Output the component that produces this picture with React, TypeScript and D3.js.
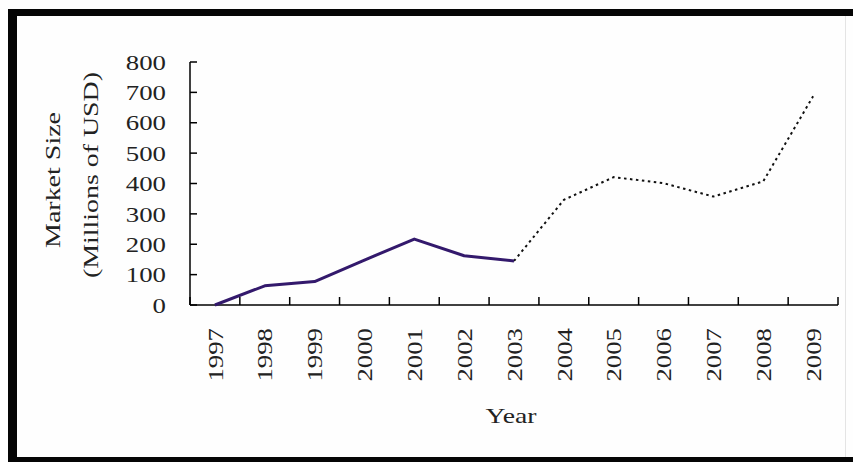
import React, { useRef, useEffect } from "react";
import * as d3 from "d3";

// data
const years = ["1997", "1998", "1999", "2000", "2001", "2002", "2003", "2004", "2005", "2006", "2007", "2008", "2009"];
const actualYears = ["1997", "1998", "1999", "2000", "2001", "2002", "2003"];
const actualValues = [0, 63, 77, 148, 217, 162, 145];
const forecastYears = ["2003", "2004", "2005", "2006", "2007", "2008", "2009"];
const forecastValues = [145, 346, 421, 401, 357, 407, 687];
const yTicks = [0, 100, 200, 300, 400, 500, 600, 700, 800];

const W = 853;
const H = 462;
const FONT = "'Liberation Serif', 'DejaVu Serif', serif";
const CHAR_W = 13.4;

const App = () => {
  const svgRef = useRef(null);

  useEffect(() => {
    const svg = d3.select(svgRef.current);
    svg.selectAll("*").remove();

    // frame
    svg.append("rect").attr("x", 0).attr("y", 0).attr("width", W).attr("height", H).attr("fill", "#fefefe");
    svg.append("rect").attr("x", 8).attr("y", 9).attr("width", W - 8).attr("height", 7).attr("fill", "#050505");
    svg.append("rect").attr("x", 8).attr("y", 9).attr("width", 9).attr("height", H - 9).attr("fill", "#050505");
    svg.append("rect").attr("x", 8).attr("y", 457).attr("width", W - 8).attr("height", 5).attr("fill", "#050505");
    svg.append("line").attr("x1", 845.5).attr("x2", 845.5).attr("y1", 16).attr("y2", 457)
      .attr("stroke", "#e4e4e4").attr("stroke-width", 1);

    // scales
    const x = d3.scaleBand().domain(years).range([190, 838]).padding(0);
    const y = d3.scaleLinear().domain([0, 800]).range([305, 62]);
    const cx = (d) => x(d) + x.bandwidth() / 2;

    const g = svg.append("g");

    // y axis
    g.append("line").attr("x1", 190).attr("x2", 190).attr("y1", y(800)).attr("y2", y(0))
      .attr("stroke", "#000").attr("stroke-width", 1.5);
    g.selectAll(".ytick").data(yTicks).enter().append("line")
      .attr("x1", 190).attr("x2", 197)
      .attr("y1", d => y(d)).attr("y2", d => y(d))
      .attr("stroke", "#000").attr("stroke-width", 1.5);
    g.selectAll(".ylab").data(yTicks).enter().append("text")
      .attr("x", 166).attr("y", d => y(d))
      .attr("dy", "0.35em")
      .attr("text-anchor", "end")
      .attr("font-family", FONT).attr("font-size", 22).attr("fill", "#222")
      .attr("textLength", d => String(d).length * CHAR_W)
      .attr("lengthAdjust", "spacingAndGlyphs")
      .text(d => d);

    // x axis
    g.append("line").attr("x1", 190).attr("x2", 838).attr("y1", y(0)).attr("y2", y(0))
      .attr("stroke", "#000").attr("stroke-width", 1.5);
    const bounds = years.map(d => x(d)).concat([838]);
    g.selectAll(".xtick").data(bounds).enter().append("line")
      .attr("x1", d => d).attr("x2", d => d)
      .attr("y1", y(0)).attr("y2", y(0) - 8)
      .attr("stroke", "#000").attr("stroke-width", 1.5);
    g.selectAll(".xlab").data(years).enter().append("text")
      .attr("transform", d => `translate(${cx(d)},328) rotate(-90)`)
      .attr("dy", "0.35em")
      .attr("text-anchor", "end")
      .attr("font-family", FONT).attr("font-size", 22).attr("fill", "#222")
      .attr("textLength", d => d.length * CHAR_W)
      .attr("lengthAdjust", "spacingAndGlyphs")
      .text(d => d);

    // titles
    g.append("text")
      .attr("transform", "translate(52,180) rotate(-90)")
      .attr("dy", "0.35em").attr("text-anchor", "middle")
      .attr("font-family", FONT).attr("font-size", 22).attr("fill", "#222")
      .attr("textLength", 136).attr("lengthAdjust", "spacingAndGlyphs")
      .text("Market Size");
    g.append("text")
      .attr("transform", "translate(90,175) rotate(-90)")
      .attr("dy", "0.35em").attr("text-anchor", "middle")
      .attr("font-family", FONT).attr("font-size", 22).attr("fill", "#222")
      .attr("textLength", 206).attr("lengthAdjust", "spacingAndGlyphs")
      .text("(Millions of USD)");
    g.append("text")
      .attr("x", 511).attr("y", 415)
      .attr("dy", "0.35em").attr("text-anchor", "middle")
      .attr("font-family", FONT).attr("font-size", 22).attr("fill", "#222")
      .attr("textLength", 51).attr("lengthAdjust", "spacingAndGlyphs")
      .text("Year");

    // lines
    const line = d3.line().x(d => cx(d[0])).y(d => y(d[1]));
    g.append("path")
      .datum(forecastYears.map((d, i) => [d, forecastValues[i]]))
      .attr("d", line)
      .attr("fill", "none").attr("stroke", "#111")
      .attr("stroke-width", 2).attr("stroke-dasharray", "2.5 3.5");
    g.append("path")
      .datum(actualYears.map((d, i) => [d, actualValues[i]]))
      .attr("d", line)
      .attr("fill", "none").attr("stroke", "#33196c")
      .attr("stroke-width", 3).attr("stroke-linejoin", "round");
  }, []);

  return (
    <div style={{ position: "absolute", left: 0, top: 0 }}>
      <svg ref={svgRef} width={W} height={H} style={{ display: "block" }}></svg>
    </div>
  );
};

export default App;
